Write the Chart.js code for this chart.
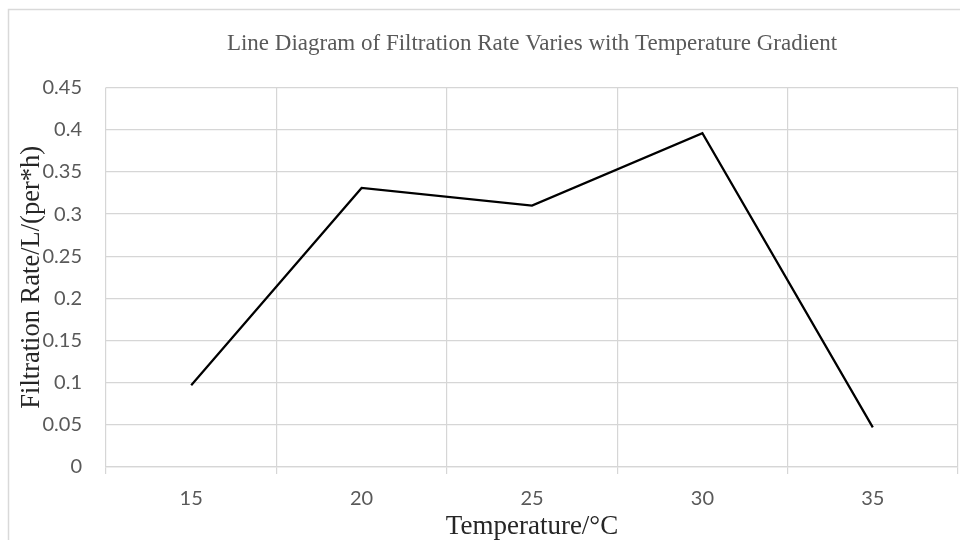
<!DOCTYPE html>
<html>
<head>
<meta charset="utf-8">
<script src="https://cdn.jsdelivr.net/npm/chart.js@4.4.1/dist/chart.umd.min.js"></script>
<style>
  html, body { margin: 0; padding: 0; background: #ffffff; }
  #wrap { width: 960px; height: 540px; position: relative; }
</style>
</head>
<body>
<div id="wrap"><canvas id="c" width="960" height="540"></canvas></div>
<script>
const chartTitle = 'Line Diagram of Filtration Rate Varies with Temperature Gradient';
const xAxisTitle = 'Temperature/\u00B0C';
const yAxisTitle = 'Filtration Rate/L/(per*h)';
const temperatures = ['15', '20', '25', '30', '35'];
const filtrationRate = [0.097, 0.331, 0.310, 0.396, 0.047];
const yTickLabels = ['0', '0.05', '0.1', '0.15', '0.2', '0.25', '0.3', '0.35', '0.4', '0.45'];

const frame = {
  id: 'frame',
  beforeDraw(chart) {
    const ctx = chart.ctx;
    ctx.save();
    ctx.fillStyle = '#ffffff';
    ctx.fillRect(0, 0, chart.width, chart.height);
    ctx.strokeStyle = '#d9d9d9';
    ctx.lineWidth = 1.5;
    ctx.strokeRect(8.5, 9.5, 2000, 2000);
    ctx.restore();
  }
};

new Chart(document.getElementById('c'), {
  type: 'line',
  data: {
    labels: temperatures,
    datasets: [{
      data: filtrationRate,
      borderColor: '#000000',
      borderWidth: 2.25,
      pointRadius: 0,
      tension: 0,
      fill: false
    }]
  },
  options: {
    responsive: false,
    animation: false,
    layout: { padding: { left: 0, right: 2, top: 0, bottom: 0 } },
    plugins: {
      legend: { display: false },
      tooltip: { enabled: false },
      title: {
        display: true,
        fullSize: false,
        text: chartTitle,
        color: '#595959',
        font: { family: 'Liberation Serif', size: 23, weight: 'normal', lineHeight: 1.2 },
        padding: { top: 30, bottom: 30 }
      }
    },
    scales: {
      x: {
        type: 'category',
        offset: true,
        grid: { offset: true, color: '#d6d6d6', lineWidth: 1.2, drawTicks: true, tickLength: 7, tickColor: '#d6d6d6' },
        border: { display: true, color: '#d6d6d6', width: 1.2 },
        ticks: { color: '#595959', padding: 13, font: { family: 'Lato', size: 20, lineHeight: 1.2 } },
        title: {
          display: true,
          text: xAxisTitle,
          color: '#262626',
          font: { family: 'Liberation Serif', size: 27, lineHeight: 1.0 },
          padding: { top: 0, bottom: 0 }
        },
        afterFit(scale) { scale.height = 73; }
      },
      y: {
        min: 0,
        max: 0.45,
        grid: { color: '#d6d6d6', lineWidth: 1.2, drawTicks: false },
        border: { display: false },
        ticks: {
          stepSize: 0.05,
          color: '#595959',
          padding: 24,
          font: { family: 'Lato', size: 20, lineHeight: 1.2 },
          callback: (v, i) => yTickLabels[i]
        },
        title: {
          display: true,
          text: yAxisTitle,
          color: '#262626',
          font: { family: 'Liberation Serif', size: 26.5, lineHeight: 1.0 },
          padding: { top: 19, bottom: 0 }
        },
        afterFit(scale) { scale.width = 106; }
      }
    }
  },
  plugins: [frame]
});
</script>
</body>
</html>
